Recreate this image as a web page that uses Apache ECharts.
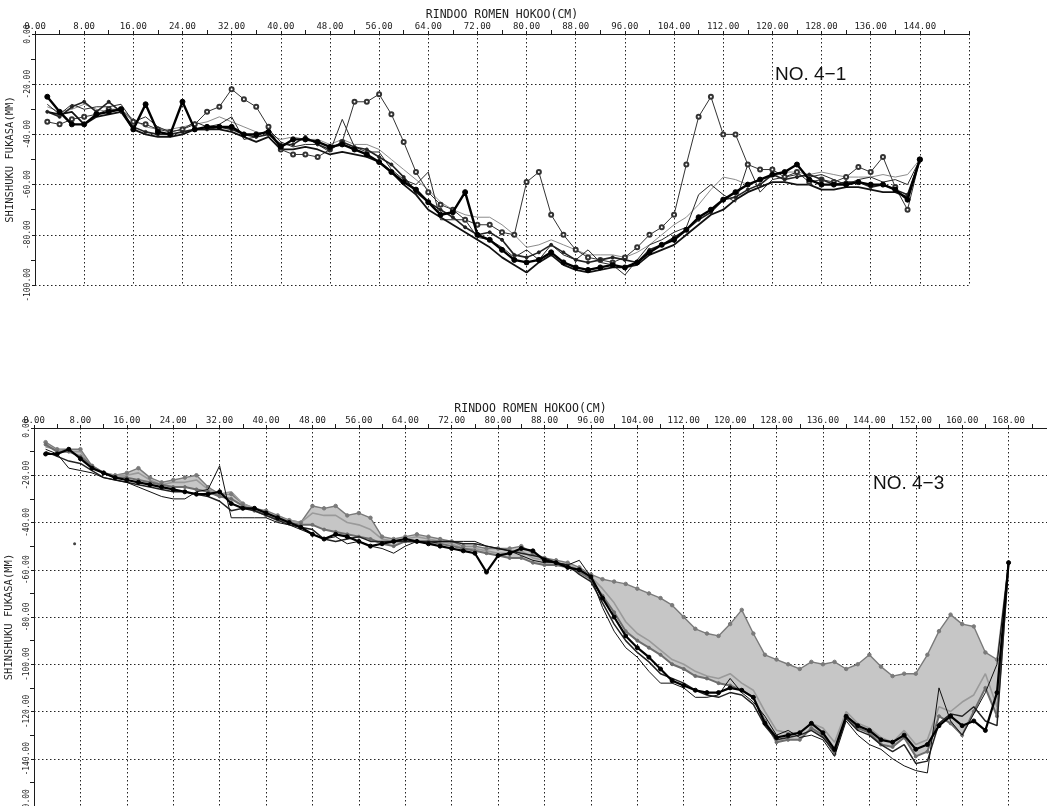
<!DOCTYPE html>
<html><head><meta charset="utf-8">
<script src="https://cdn.jsdelivr.net/npm/echarts@6/dist/echarts.min.js"></script>
<style>html,body{margin:0;padding:0;background:#fff}#c{width:1047px;height:806px}</style>
</head><body><div id="c"></div>
<script>
// ---------- top chart (NO.4-1) ----------
const topX = [2,4,6,8,10,12,14,16,18,20,22,24,26,28,30,32,34,36,38,40,42,44,46,48,50,52,54,56,58,60,62,64,66,68,70,72,74,76,78,80,82,84,86,88,90,92,94,96,98,100,102,104,106,108,110,112,114,116,118,120,122,124,126,128,130,132,134,136,138,140,142,144];
const topHeavy = [-25,-31,-36,-36,-32, -31,-30,-38,-28,-39, -40,-27,-38,-37,-37, -37,-40,-40,-39,-45, -42,-42,-43,-45,-44, -46,-48,-51,-55,-59, -62,-67,-72,-71,-63, -80,-82,-86,-90,-91, -90,-87,-91,-93,-94, -93,-92,-93,-91,-87, -84,-82,-78,-73,-70, -66,-63,-60,-58,-56, -55,-52,-58,-60,-60, -60,-59,-60,-60,-62, -66,-50];
const topCircle = [-35,-36,-34,-33,-32, -30,-30,-35,-36,-38, -39,-38,-36,-31,-29, -22,-26,-29,-37,-46, -48,-48,-49,-46,-43, -27,-27,-24,-32,-43, -55,-63,-68,-70,-74, -76,-76,-79,-80,-59, -55,-72,-80,-86,-89, -90,-91,-89,-85,-80, -77,-72,-52,-33,-25, -40,-40,-52,-54,-54, -57,-55,-59,-58,-59, -57,-53,-55,-49,-61, -70,-50];
const topDots = [-31,-33,-29,-27,-31, -27,-31,-37,-39,-40, -40,-39,-38,-38,-37, -38,-40,-41,-40,-44, -44,-41,-44,-46,-43, -45,-46,-49,-52,-57, -63,-67,-70,-73,-77, -80,-79,-82,-88,-89, -87,-84,-87,-90,-91, -90,-89,-90,-91,-86, -84,-81,-78,-74,-71, -66,-65,-62,-60,-56, -58,-57,-56,-58,-60, -59,-59,-61,-60,-62, -64,-50];
const topGray = [-29,-31,-30,-28,-30, -31,-30,-34,-37,-38, -38,-37,-36,-35,-33, -35,-37,-39,-40,-42, -41,-42,-42,-44,-42, -44,-44,-46,-50,-54, -58,-62,-67,-70,-72, -73,-73,-76,-80,-85, -84,-82,-84,-86,-88, -88,-88,-89,-87,-84, -80,-76,-73,-68,-62, -57,-58,-60,-58,-57, -55,-55,-56,-55,-56, -57,-57,-57,-56,-57, -56,-50];
const topThin = [-28,-32,-28,-30,-29, -29,-28,-35,-33,-37, -39,-38,-35,-37,-36, -33,-42,-41,-38,-43, -45,-44,-44,-47,-34, -45,-47,-47,-54,-58, -60,-55,-74,-74,-74, -81,-82,-85,-89,-86, -90,-84,-88,-90,-86, -91,-92,-96,-90,-84, -82,-79,-77,-64,-60, -64,-67,-52,-63,-58, -57,-56,-57,-56,-58, -60,-58,-57,-59,-58, -60,-50];
const topDeep = [-31,-32,-31,-36,-33, -32,-31,-38,-40,-41, -41,-40,-38,-38,-38, -39,-41,-43,-41,-46, -46,-45,-46,-48,-47, -48,-49,-51,-55,-60, -64,-70,-73,-76,-79, -82,-85,-89,-92,-95, -91,-88,-92,-94,-95, -94,-93,-93,-92,-88, -86,-84,-80,-76,-72, -70,-66,-63,-61,-59, -59,-60,-60,-62,-62, -61,-61,-62,-63,-63, -65,-50];

// ---------- bottom chart (NO.4-3) ----------
const botX = [2,4,6,8,10,12,14,16,18,20,22,24,26,28,30,32,34,36,38,40,42,44,46,48,50,52,54,56,58,60,62,64,66,68,70,72,74,76,78,80,82,84,86,88,90,92,94,96,98,100,102,104,106,108,110,112,114,116,118,120,122,124,126,128,130,132,134,136,138,140,142,144,146,148,150,152,154,156,158,160,162,164,166,168];
const botUpper = [-6,-9,-9,-9,-16, -19,-20,-19,-17,-21, -23,-22,-21,-20,-25, -28,-28,-32,-34,-35, -37,-39,-40,-33,-34, -33,-37,-36,-38,-46, -47,-46,-45,-46,-47, -48,-50,-50,-51,-51, -51,-50,-53,-55,-56, -57,-59,-62,-64,-65, -66,-68,-70,-72,-75, -80,-85,-87,-88,-83, -77,-87,-96,-98,-100, -102,-99,-100,-99,-102, -100,-96,-101,-105,-104, -104,-96,-86,-79,-83, -84,-95,-98,-57];
const botHeavy = [-11,-11,-9,-13,-17, -19,-21,-22,-23,-24, -25,-26,-27,-28,-28, -27,-32,-34,-34,-36, -38,-40,-42,-45,-47, -45,-46,-48,-50,-49, -48,-47,-48,-49,-50, -51,-52,-53,-61,-54, -53,-51,-52,-56,-57, -59,-60,-63,-72,-80, -88,-93,-97,-102,-107, -109,-111,-112,-112,-110, -111,-114,-125,-131,-130, -129,-125,-129,-136,-122, -126,-128,-132,-133,-130, -136,-134,-126,-122,-126, -124,-128,-112,-57];
const botThin = [-9,-11,-17,-18,-19, -21,-22,-23,-25,-27, -29,-30,-30,-27,-26, -16,-38,-38,-38,-38, -40,-41,-43,-45,-47, -46,-49,-48,-50,-51, -53,-50,-48,-49,-48, -48,-48,-48,-50,-51, -52,-54,-56,-57,-57, -58,-56,-63,-76,-86, -93,-97,-103,-108,-108, -110,-114,-114,-113,-106, -112,-116,-122,-130,-128, -131,-130,-132,-139,-124, -130,-134,-136,-140,-143, -145,-146,-110,-124,-130, -121,-112,-100,-57];
const botGrayLow = [-7,-10,-10,-12,-16, -19,-21,-21,-22,-23, -24,-25,-25,-26,-27, -29,-30,-33,-35,-37, -39,-40,-41,-41,-43, -44,-45,-46,-47,-49, -50,-48,-48,-48,-49, -50,-51,-52,-53,-54, -55,-55,-57,-58,-58, -59,-61,-64,-71,-78, -86,-90,-93,-96,-100, -102,-105,-106,-108,-109, -111,-114,-124,-133,-132, -132,-127,-130,-138,-122, -127,-129,-134,-135,-131, -139,-137,-122,-125,-130, -120,-110,-122,-57];
const botGrayMid = [-8,-9,-10,-10,-17, -19,-20,-20,-19,-22, -24,-23,-23,-22,-26, -28,-27,-32,-34,-36, -38,-39,-40,-36,-37, -37,-40,-41,-43,-47, -48,-47,-46,-47,-48, -49,-51,-51,-52,-53, -53,-52,-55,-56,-57, -58,-60,-63,-68,-74, -82,-87,-90,-94,-98, -100,-103,-105,-106,-104, -108,-111,-120,-128,-129, -129,-125,-127,-133,-120, -125,-127,-131,-133,-128, -134,-132,-118,-120,-116, -113,-104,-118,-57];
const botBlack = [-10,-12,-14,-15,-18, -21,-22,-23,-24,-25, -26,-27,-27,-28,-29, -31,-35,-34,-35,-37, -39,-41,-42,-43,-47, -48,-47,-46,-48,-48, -48,-48,-48,-48,-48, -48,-49,-49,-50,-51, -52,-53,-54,-55,-57, -58,-62,-65,-74,-83, -90,-95,-99,-104,-106, -108,-111,-113,-114,-112, -113,-117,-126,-132,-131, -130,-128,-131,-137,-123, -128,-130,-134,-137,-134, -142,-141,-125,-121,-122, -118,-124,-126,-57];
const botStray = [[7, -49]];

const xTitle = 'RINDOO ROMEN HOKOO(CM)';
const yTitle = 'SHINSHUKU FUKASA(MM)';

const pairs = (xs, ys) => xs.map((x, i) => [x, ys[i]]);
const mono = 'DejaVu Sans Mono';
const ink = '#1c1c1c';

function xAxisCfg(gi, max, nameGap, namePad) {
  return {
    gridIndex: gi, type: 'value', position: 'top', min: 0, max: max, interval: 8,
    axisLine: { show: true, lineStyle: { color: ink, width: 1 } },
    axisTick: { show: true, inside: false, length: 3, lineStyle: { color: ink } },
    minorTick: { show: true, splitNumber: 2, length: 4, lineStyle: { color: ink } },
    minorSplitLine: { show: false },
    axisLabel: { formatter: v => v.toFixed(2), fontFamily: mono, fontSize: 9, color: ink, margin: 3, showMaxLabel: false },
    splitLine: { show: true, lineStyle: { type: [1.5, 2.5], color: '#222', width: 1 } },
    name: xTitle, nameLocation: 'middle', nameGap: nameGap,
    nameTextStyle: { fontFamily: mono, fontSize: 11.5, color: ink, padding: namePad }
  };
}
function yAxisCfg(gi, min) {
  return {
    gridIndex: gi, type: 'value', min: min, max: 0, interval: 20,
    axisLine: { show: true, onZero: false, lineStyle: { color: ink, width: 1 } },
    axisTick: { show: true, inside: false, length: 3, lineStyle: { color: ink } },
    minorTick: { show: true, splitNumber: 2, length: 4, lineStyle: { color: ink } },
    axisLabel: { formatter: v => v.toFixed(2), rotate: 90, fontFamily: mono, fontSize: 8, color: ink, margin: 3 },
    splitLine: { show: true, lineStyle: { type: [1.5, 2.5], color: '#222', width: 1 } },
    name: yTitle, nameLocation: 'middle', nameRotate: 90, nameGap: 18,
    nameTextStyle: { fontFamily: mono, fontSize: 10.5, color: ink }
  };
}
function line(xi, data, color, width, symbol, size, z, bw) {
  return {
    type: 'line', xAxisIndex: xi, yAxisIndex: xi, data: data,
    lineStyle: { color: color, width: width },
    itemStyle: { color: color, borderColor: color, borderWidth: bw || 1 },
    symbol: symbol, symbolSize: size, showSymbol: symbol !== 'none',
    z: z || 3, animation: false, silent: true
  };
}

const chart = echarts.init(document.getElementById('c'), null, { renderer: 'canvas' });
chart.setOption({
  backgroundColor: '#ffffff',
  animation: false,
  grid: [
    { left: 35, top: 34, width: 934, height: 251, show: false, containLabel: false, outerBoundsMode: 'none' },
    { left: 34, top: 428, width: 1021, height: 378, show: false, containLabel: false, outerBoundsMode: 'none' }
  ],
  xAxis: [xAxisCfg(0, 152, 11, [0, 0, 0, 0]), xAxisCfg(1, 176, 12, [0, 28, 0, 0])],
  yAxis: [yAxisCfg(0, -100), yAxisCfg(1, -160)],
  graphic: [
    { type: 'text', left: 775, top: 65, style: { text: 'NO. 4−1', font: '19px "Liberation Sans"', fill: '#111' } },
    { type: 'text', left: 873, top: 474, style: { text: 'NO. 4−3', font: '19px "Liberation Sans"', fill: '#111' } }
  ],
  series: [
    line(0, pairs(topX, topGray), '#8c8c8c', 1, 'none', 0, 2),
    line(0, pairs(topX, topThin), '#2a2a2a', 1, 'none', 0, 3),
    line(0, pairs(topX, topCircle), '#333', 1, 'emptyCircle', 4, 4, 0.8),
    line(0, pairs(topX, topDots), '#222', 1.6, 'circle', 3, 4),
    line(0, pairs(topX, topDeep), '#111', 1.8, 'none', 0, 4),
    line(0, pairs(topX, topHeavy), '#000', 2.4, 'circle', 5, 5),
    {
      type: 'custom', xAxisIndex: 1, yAxisIndex: 1, data: [[0, 0]], z: 1, silent: true, animation: false,
      renderItem: function (params, api) {
        const pts = [];
        for (let i = 0; i < botX.length; i++) pts.push(api.coord([botX[i], botUpper[i]]));
        for (let i = botX.length - 1; i >= 0; i--) pts.push(api.coord([botX[i], botGrayLow[i]]));
        return { type: 'polygon', shape: { points: pts }, style: { fill: '#c6c6c6', stroke: null } };
      }
    },
    line(1, pairs(botX, botUpper), '#7a7a7a', 1.4, 'circle', 3.5, 3),
    line(1, pairs(botX, botGrayMid), '#9a9a9a', 1.6, 'none', 0, 3),
    line(1, pairs(botX, botGrayLow), '#6e6e6e', 2, 'circle', 3, 3),
    line(1, pairs(botX, botBlack), '#222', 1.5, 'none', 0, 4),
    line(1, pairs(botX, botThin), '#111', 1, 'none', 0, 4),
    line(1, pairs(botX, botHeavy), '#000', 2.2, 'circle', 4, 5),
    { type: 'scatter', xAxisIndex: 1, yAxisIndex: 1, data: botStray, symbolSize: 3, itemStyle: { color: '#111' }, animation: false, silent: true }
  ]
});
</script>
</body></html>
